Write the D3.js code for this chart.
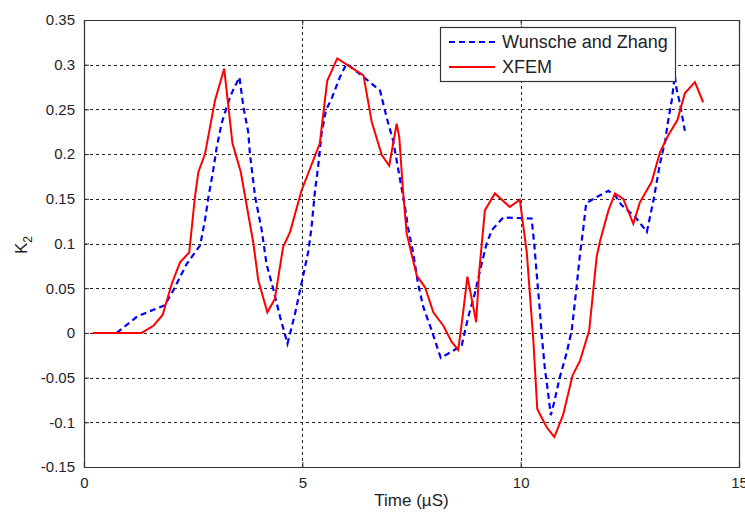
<!DOCTYPE html>
<html>
<head>
<meta charset="utf-8">
<script src="https://cdn.jsdelivr.net/npm/d3@7"></script>
<style>
  html, body { margin: 0; padding: 0; background: #fff; }
  svg { display: block; }
  text { font-family: "Liberation Sans", Arial, Helvetica, sans-serif; fill: #1e1e2a; }
</style>
</head>
<body>
<svg id="chart" width="745" height="512"></svg>
<script>
// Wunsche and Zhang reference curve: time (µs) and K2
const wzTime = [0.75, 1.21, 1.44, 1.85, 2.05, 2.35, 2.66, 2.77, 2.85, 2.96, 3.04, 3.15, 3.27, 3.38, 3.56, 3.65, 3.76, 3.80, 3.92, 4.07, 4.18, 4.34, 4.49, 4.66, 4.83, 4.98, 5.14, 5.21, 5.29, 5.36, 5.44, 5.54, 5.67, 5.86, 6.01, 6.36, 6.78, 6.93, 7.08, 7.24, 7.35, 7.42, 7.54, 7.65, 7.77, 7.96, 8.17, 8.42, 8.65, 8.80, 8.95, 9.07, 9.22, 9.34, 9.60, 10.25, 10.31, 10.36, 10.44, 10.48, 10.55, 10.63, 10.69, 10.76, 10.90, 11.05, 11.17, 11.28, 11.36, 11.43, 11.50, 11.74, 12.01, 12.16, 12.31, 12.62, 12.89, 13.04, 13.19, 13.31, 13.38, 13.46, 13.53, 13.57, 13.65, 13.76];
const wzK2 = [0, 0.018, 0.023, 0.031, 0.048, 0.077, 0.098, 0.126, 0.152, 0.182, 0.208, 0.234, 0.253, 0.268, 0.286, 0.253, 0.225, 0.200, 0.152, 0.115, 0.077, 0.048, 0.018, -0.012, 0.021, 0.055, 0.092, 0.118, 0.159, 0.185, 0.223, 0.249, 0.262, 0.286, 0.301, 0.288, 0.271, 0.241, 0.215, 0.171, 0.141, 0.118, 0.089, 0.055, 0.029, 0.003, -0.028, -0.021, -0.014, 0.018, 0.044, 0.070, 0.100, 0.115, 0.129, 0.128, 0.100, 0.070, 0.025, -0.001, -0.038, -0.068, -0.092, -0.079, -0.049, -0.023, 0.003, 0.051, 0.089, 0.115, 0.145, 0.152, 0.159, 0.154, 0.143, 0.130, 0.113, 0.148, 0.189, 0.215, 0.238, 0.260, 0.288, 0.273, 0.256, 0.226];

// XFEM result: time (µs) and K2
const xfemTime = [0.2, 1.32, 1.59, 1.80, 2.01, 2.20, 2.41, 2.54, 2.62, 2.77, 3.00, 3.21, 3.40, 3.59, 3.88, 3.99, 4.20, 4.37, 4.56, 4.72, 4.98, 5.40, 5.57, 5.80, 6.40, 6.59, 6.82, 6.99, 7.16, 7.22, 7.31, 7.39, 7.62, 7.81, 8.00, 8.23, 8.42, 8.57, 8.67, 8.78, 8.90, 8.98, 9.05, 9.18, 9.41, 9.75, 9.98, 10.14, 10.29, 10.38, 10.59, 10.77, 10.97, 11.19, 11.36, 11.57, 11.74, 11.82, 12.01, 12.16, 12.35, 12.58, 12.73, 13.00, 13.19, 13.38, 13.59, 13.76, 13.99, 14.18];
const xfemK2 = [0, 0, 0.008, 0.020, 0.055, 0.079, 0.090, 0.152, 0.180, 0.200, 0.260, 0.2955, 0.212, 0.180, 0.100, 0.059, 0.023, 0.038, 0.096, 0.113, 0.159, 0.212, 0.282, 0.307, 0.288, 0.236, 0.199, 0.187, 0.234, 0.219, 0.156, 0.111, 0.064, 0.051, 0.023, 0.008, -0.010, -0.019, 0.018, 0.063, 0.033, 0.012, 0.068, 0.137, 0.156, 0.141, 0.149, 0.090, -0.008, -0.085, -0.105, -0.1165, -0.092, -0.0475, -0.031, 0.003, 0.085, 0.103, 0.137, 0.156, 0.150, 0.122, 0.146, 0.169, 0.202, 0.221, 0.238, 0.268, 0.2805, 0.258];

// Axis ticks
const xTicks = [0, 5, 10, 15];
const yTicks = [-0.15, -0.1, -0.05, 0, 0.05, 0.1, 0.15, 0.2, 0.25, 0.3, 0.35];

const seriesNames = ["Wunsche and Zhang", "XFEM"];

const svg = d3.select("#chart");
const plotL = 84, plotR = 739, plotT = 20, plotB = 467;

const x = d3.scaleLinear().domain([0, 15]).range([plotL, plotR]);
const y = d3.scaleLinear().domain([-0.15, 0.35]).range([plotB, plotT]);

// Dotted grid lines (interior ticks only)
const grid = svg.append("g");
grid.selectAll("line.h").data(yTicks.filter(v => v > -0.15 && v < 0.35)).join("line")
  .attr("x1", plotL).attr("x2", plotR)
  .attr("y1", d => Math.round(y(d)) + 0.5).attr("y2", d => Math.round(y(d)) + 0.5)
  .attr("stroke", "#222").attr("stroke-width", 1).attr("stroke-dasharray", "3,3");
grid.selectAll("line.v").data(xTicks.filter(v => v > 0 && v < 15)).join("line")
  .attr("y1", plotT).attr("y2", plotB)
  .attr("x1", d => Math.round(x(d)) + 0.5).attr("x2", d => Math.round(x(d)) + 0.5)
  .attr("stroke", "#222").attr("stroke-width", 1).attr("stroke-dasharray", "3,3");

// Axes with inward ticks
const fmt = d => String(+d.toFixed(2));
const axB = svg.append("g").attr("transform", `translate(0,${plotB})`)
  .call(d3.axisBottom(x).tickValues(xTicks).tickSize(-5).tickPadding(10).tickFormat(fmt));
const axT = svg.append("g").attr("transform", `translate(0,${plotT})`)
  .call(d3.axisTop(x).tickValues(xTicks).tickSize(-5).tickFormat(""));
const axL = svg.append("g").attr("transform", `translate(${plotL},0)`)
  .call(d3.axisLeft(y).tickValues(yTicks).tickSize(-5).tickPadding(9).tickFormat(fmt));
const axR = svg.append("g").attr("transform", `translate(${plotR},0)`)
  .call(d3.axisRight(y).tickValues(yTicks).tickSize(-5).tickFormat(""));
[axB, axT, axL, axR].forEach(g => {
  g.select(".domain").attr("stroke", "#333").attr("stroke-width", 1.2);
  g.selectAll(".tick line").attr("stroke", "#333");
  g.selectAll(".tick text").style("font-size", "15px").attr("fill", "#1e1e2a");
});

// Curves
const line = d3.line().x(d => x(d[0])).y(d => y(d[1]));
const wzData = wzTime.map((t, i) => [t, wzK2[i]]);
const xfemData = xfemTime.map((t, i) => [t, xfemK2[i]]);

svg.append("path").datum(wzData).attr("d", line)
  .attr("fill", "none").attr("stroke", "#0000ff").attr("stroke-width", 2.2)
  .attr("stroke-dasharray", "6,4");
svg.append("path").datum(xfemData).attr("d", line)
  .attr("fill", "none").attr("stroke", "#ff0000").attr("stroke-width", 2);

// Axis titles
svg.append("text").attr("x", (plotL + plotR) / 2).attr("y", 506)
  .attr("text-anchor", "middle").style("font-size", "17px").text("Time (µS)");
const yl = svg.append("text").attr("transform", "translate(27,245) rotate(-90)")
  .attr("text-anchor", "middle").style("font-size", "17px");
yl.append("tspan").text("K");
yl.append("tspan").attr("dy", 5).style("font-size", "12px").text("2");

// Legend
const lg = svg.append("g");
lg.append("rect").attr("x", 440.5).attr("y", 27.5).attr("width", 235).attr("height", 54)
  .attr("fill", "#fff").attr("stroke", "#333").attr("stroke-width", 1.2);
const entries = [
  { name: seriesNames[0], color: "#0000ff", dash: "6,4", w: 2.2, yy: 42 },
  { name: seriesNames[1], color: "#ff0000", dash: null, w: 2, yy: 67 }
];
entries.forEach(e => {
  lg.append("line").attr("x1", 449).attr("x2", 495).attr("y1", e.yy).attr("y2", e.yy)
    .attr("stroke", e.color).attr("stroke-width", e.w).attr("stroke-dasharray", e.dash);
  lg.append("text").attr("x", 502).attr("y", e.yy + 6).style("font-size", "18px").text(e.name);
});
</script>
</body>
</html>
